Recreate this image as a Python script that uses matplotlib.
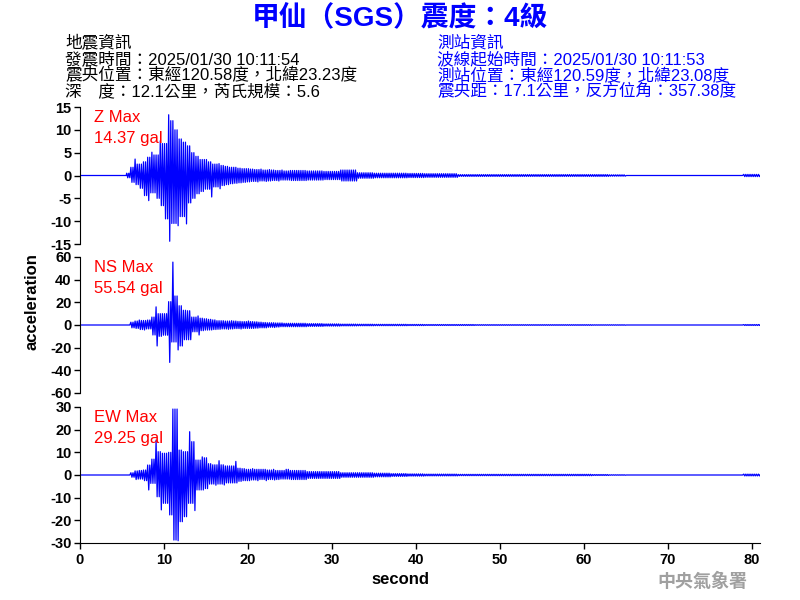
import matplotlib
matplotlib.use("Agg")
import matplotlib.pyplot as plt
import numpy as np

plt.rcParams['font.family'] = ['Liberation Sans', 'Noto Sans CJK TC', 'DejaVu Sans']
plt.rcParams['axes.unicode_minus'] = False

W, H = 800, 600

# ---- waveform envelopes ----
# fine part: 0.5 s cells starting at 5.5 s (upper / lower peak in each cell, gal)
FINE_START, FINE_STEP = 5.5, 0.5
z_up = [0.5, 1.8, 3.6, 2.5, 3.0, 4.0, 5.1, 4.5, 7.6, 7.0, 13.3, 12.0, 10.0, 8.0,
        7.3, 6.5, 5.0, 4.2, 3.5, 3.5, 3.0, 2.5, 2.6, 2.2, 2.0, 1.8, 1.8, 1.6,
        1.5, 1.5, 1.4, 1.3, 1.4, 1.2, 1.3, 1.2, 1.1, 1.2, 1.0]
z_lo = [-0.5, -1.5, -2.0, -2.8, -4.4, -5.5, -3.8, -5.0, -6.6, -9.5, -14.4, -10.5,
        -11.0, -9.0, -10.6, -6.0, -5.0, -4.0, -3.5, -3.0, -4.7, -2.5, -2.9, -2.2,
        -2.0, -1.8, -1.7, -1.6, -1.5, -1.4, -1.3, -1.4, -1.2, -1.3, -1.2, -1.1,
        -1.2, -1.0, -1.0]
ns_up = [0.0, 2.5, 3.5, 4.4, 4.0, 4.4, 7.0, 16.0, 10.0, 10.0, 20.6, 55.5, 25.6,
         17.0, 13.0, 12.6, 7.0, 8.0, 6.0, 5.5, 5.0, 4.5, 3.8, 3.8, 3.5, 3.8, 3.5,
         3.2, 3.0, 3.5, 3.0, 2.8, 2.5, 2.2, 2.0, 2.0, 1.8, 1.8, 1.5]
ns_lo = [0.0, -2.5, -3.0, -4.0, -4.4, -3.5, -8.8, -18.5, -10.0, -9.0, -33.0, -15.0,
         -22.0, -18.5, -13.0, -13.0, -6.0, -8.8, -5.0, -4.5, -4.4, -4.0, -3.8,
         -3.5, -3.8, -3.5, -3.2, -3.5, -3.0, -3.0, -3.0, -2.8, -2.5, -2.5, -2.0,
         -2.2, -1.8, -1.5, -1.5]
ew_up = [0.0, 1.0, 1.8, 2.0, 2.2, 4.4, 7.0, 15.4, 10.3, 9.6, 10.0, 29.1, 29.1,
         11.0, 10.3, 19.1, 14.7, 6.6, 8.0, 7.6, 5.0, 4.5, 6.3, 4.5, 4.0, 4.0, 6.0,
         3.0, 2.8, 2.5, 2.8, 2.5, 2.5, 2.5, 2.2, 2.5, 2.0, 2.0, 2.5]
ew_lo = [0.0, -1.0, -2.0, -1.8, -2.5, -6.6, -3.7, -9.6, -15.4, -12.5, -17.6, -28.7,
         -29.0, -20.6, -18.4, -12.5, -15.7, -6.6, -6.6, -6.0, -4.0, -4.5, -4.0,
         -4.4, -3.5, -3.5, -3.5, -2.8, -2.5, -2.5, -2.2, -2.5, -2.0, -2.5, -2.0,
         -2.2, -2.0, -1.8, -1.8]

# coda: 2 s cells starting at 25 s (symmetric noise level, gal)
CODA_START, CODA_STEP = 25.0, 2.0
z_coda = [1.1, 1.0, 0.9, 1.2, 0.6, 0.5, 0.5, 0.45, 0.4, 0.4, 0.2, 0.2, 0.2, 0.2,
          0.2, 0.2, 0.2, 0.2, 0.2, 0.15, 0.0, 0.0, 0.0, 0.0, 0.0, 0.0, 0.0, 0.25]
ns_coda = [1.5, 1.2, 1.0, 0.8, 0.7, 0.6, 0.6, 0.5, 0.4, 0.4, 0.4, 0.3, 0.3, 0.3,
           0.3, 0.3, 0.3, 0.3, 0.2, 0.2, 0.0, 0.0, 0.0, 0.0, 0.0, 0.0, 0.0, 0.4]
ew_coda = [2.0, 1.5, 1.5, 1.0, 1.0, 0.8, 0.6, 0.5, 0.4, 0.4, 0.3, 0.3, 0.3, 0.3,
           0.3, 0.3, 0.3, 0.3, 0.2, 0.1, 0.0, 0.0, 0.0, 0.0, 0.0, 0.0, 0.0, 0.4]

T_END = 81.0

channels = [
    ("Z", z_up, z_lo, z_coda, 15, 5, "14.37"),
    ("NS", ns_up, ns_lo, ns_coda, 60, 20, "55.54"),
    ("EW", ew_up, ew_lo, ew_coda, 30, 10, "29.25"),
]

# panel placement in pixels (top, bottom)
panels_px = [(107, 244), (257, 393), (407, 543)]
LEFT_PX, RIGHT_PX = 80, 760
SWING = 0.125  # seconds between successive swings of the zig-zag


def trace(up, lo, coda):
    """zig-zag between the read peaks of each cell; the second swing of a
    cell reaches only the smaller of this and the next cell's peak"""
    t = [0.0, FINE_START]
    v = [0.0, 0.0]
    n = len(up)
    for i in range(n):
        j = min(i + 1, n - 1)
        t0 = FINE_START + i * FINE_STEP
        swings = [up[i], lo[i], min(up[i], up[j]), max(lo[i], lo[j])]
        for k, s in enumerate(swings):
            t.append(t0 + SWING / 2 + SWING * k)
            v.append(s)
    for i, a in enumerate(coda):
        t0 = CODA_START + i * CODA_STEP
        for k in range(int(CODA_STEP / SWING)):
            t.append(t0 + SWING / 2 + SWING * k)
            v.append(a if k % 2 == 0 else -a)
    t.append(T_END)
    v.append(0.0)
    return np.array(t), np.array(v)


fig = plt.figure(figsize=(W / 100, H / 100), dpi=100)


def fx(x):
    return x / W


def fy(y):
    return 1 - y / H


for idx, (name, up, lo, coda, lim, step, peak) in enumerate(channels):
    top, bot = panels_px[idx]
    ax = fig.add_axes([fx(LEFT_PX), fy(bot), (RIGHT_PX - LEFT_PX) / W, (bot - top) / H])
    t, v = trace(up, lo, coda)
    ax.plot(t, v, color="#0000FF", lw=0.9)
    ax.set_xlim(0, T_END)
    ax.set_ylim(-lim, lim)
    ax.set_yticks(np.arange(-lim, lim + 1, step))
    ax.spines[["top", "right"]].set_visible(False)
    ax.tick_params(axis="y", length=4, width=1, labelsize=10.5, pad=2)
    for lab in ax.get_yticklabels():
        lab.set_fontweight("bold")
    if idx < 2:
        ax.spines["bottom"].set_visible(False)
        ax.set_xticks([])
    else:
        ax.set_xticks(np.arange(0, 81, 10))
        ax.tick_params(axis="x", length=4, width=1, labelsize=10.5, pad=3)
        for lab in ax.get_xticklabels():
            lab.set_fontweight("bold")
    ax.patch.set_alpha(0)
    fig.text(fx(94), fy(top + 11), f"{name} Max", color="#FF0000", fontsize=12,
             va="center", ha="left")
    fig.text(fx(94), fy(top + 31), f"{peak} gal", color="#FF0000", fontsize=12,
             va="center", ha="left")

fig.text(fx(32), fy(302), "acceleration", rotation=90, fontsize=12, fontweight="bold",
         ha="center", va="center")
fig.text(fx(400), fy(580), "second", fontsize=12, fontweight="bold",
         ha="center", va="center")

# header
fig.text(0.5, fy(19), "甲仙（SGS）震度：4級", color="#0000FF", fontsize=20,
         fontweight="bold", ha="center", va="center")
left_lines = ["地震資訊",
              "發震時間：2025/01/30 10:11:54",
              "震央位置：東經120.58度，北緯23.23度",
              "深　度：12.1公里，芮氏規模：5.6"]
right_lines = ["測站資訊",
               "波線起始時間：2025/01/30 10:11:53",
               "測站位置：東經120.59度，北緯23.08度",
               "震央距：17.1公里，反方位角：357.38度"]
rows_px = [43, 59, 75, 91]
for y, txt in zip(rows_px, left_lines):
    fig.text(fx(65), fy(y), txt, fontsize=12, color="black", ha="left", va="center")
for y, txt in zip(rows_px, right_lines):
    fig.text(fx(437), fy(y), txt, fontsize=12, color="#0000FF", ha="left", va="center")

fig.text(fx(702), fy(582), "中央氣象署", fontsize=13, fontweight="bold",
         color="#A0A0A0", ha="center", va="center")

fig.savefig("out.png", dpi=100)
